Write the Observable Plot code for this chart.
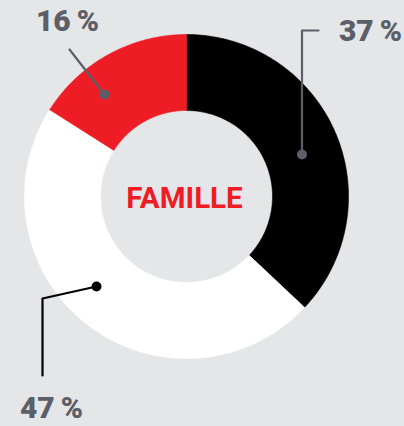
<!DOCTYPE html>
<html><head><meta charset="utf-8">
<script src="https://cdn.jsdelivr.net/npm/d3@7"></script>
<script src="https://cdn.jsdelivr.net/npm/@observablehq/plot@0.6"></script>
<style>
html,body{margin:0;padding:0;background:#e5e6e8;}
</style></head><body><div id="chart"></div>
<script>
// Data
const categories = ["noir", "blanc", "rouge"];
const values = [37, 47, 16];
const labels = ["37\u2009%", "47\u2009%", "16\u2009%"];
const colors = ["#000000", "#ffffff", "#ee1c25"];
const centerLabel = "FAMILLE";

// Layout (pixel units, origin at donut center)
const R = 162, r0 = 86;
const grey = "#5c5f67";
const annotations = [
  {cat: "noir",  path: [[132,-166],[115.5,-166],[115.5,-42]], lx: 184, ly: -165, color: grey},
  {cat: "blanc", path: [[-144,179],[-144,102],[-90,90]],      lx: -135, ly: 212, color: "#000000"},
  {cat: "rouge", path: [[-117,-147],[-82,-102]],              lx: -119, ly: -175, color: grey}
];

const arcs = d3.pie().sort(null).value(d => d)(values);
const pt = (rad, a) => [rad * Math.sin(a), -rad * Math.cos(a)];
const slices = arcs.map((a, i) => {
  const n = 120, pts = [];
  for (let k = 0; k <= n; k++) pts.push(pt(R, a.startAngle + (a.endAngle - a.startAngle) * k / n));
  for (let k = n; k >= 0; k--) pts.push(pt(r0, a.startAngle + (a.endAngle - a.startAngle) * k / n));
  pts.push(pts[0]);
  return {cat: categories[i], color: colors[i], pts};
});

const marks = [];
for (const s of slices) {
  marks.push(Plot.line(s.pts, {x: d => d[0], y: d => d[1], fill: s.color, stroke: s.color, strokeWidth: 0.6, curve: "linear"}));
}
annotations.forEach(an => {
  const i = categories.indexOf(an.cat);
  marks.push(Plot.line(an.path, {x: d => d[0], y: d => d[1], stroke: an.color, strokeWidth: 2.2}));
  marks.push(Plot.dot([an.path[an.path.length - 1]], {x: d => d[0], y: d => d[1], r: 5, fill: an.color, stroke: "none"}));
  marks.push(Plot.text([labels[i]], {x: () => an.lx, y: () => an.ly, text: d => d, fill: grey,
    fontSize: 30, fontWeight: 900, fontFamily: "Roboto", textAnchor: "middle"}));
});
marks.push(Plot.text([centerLabel], {x: () => -2, y: () => 2, text: d => d, fill: "#ee1c25",
  fontSize: 29.5, fontWeight: 700, fontFamily: "Roboto", textAnchor: "middle"}));

const chart = Plot.plot({
  width: 404, height: 426, margin: 0,
  x: {domain: [-186, 218], range: [0, 404], axis: null},
  y: {domain: [-196, 230], range: [0, 426], axis: null},
  style: {background: "#e5e6e8", overflow: "visible"},
  marks
});
document.getElementById("chart").appendChild(chart);
</script></body></html>
